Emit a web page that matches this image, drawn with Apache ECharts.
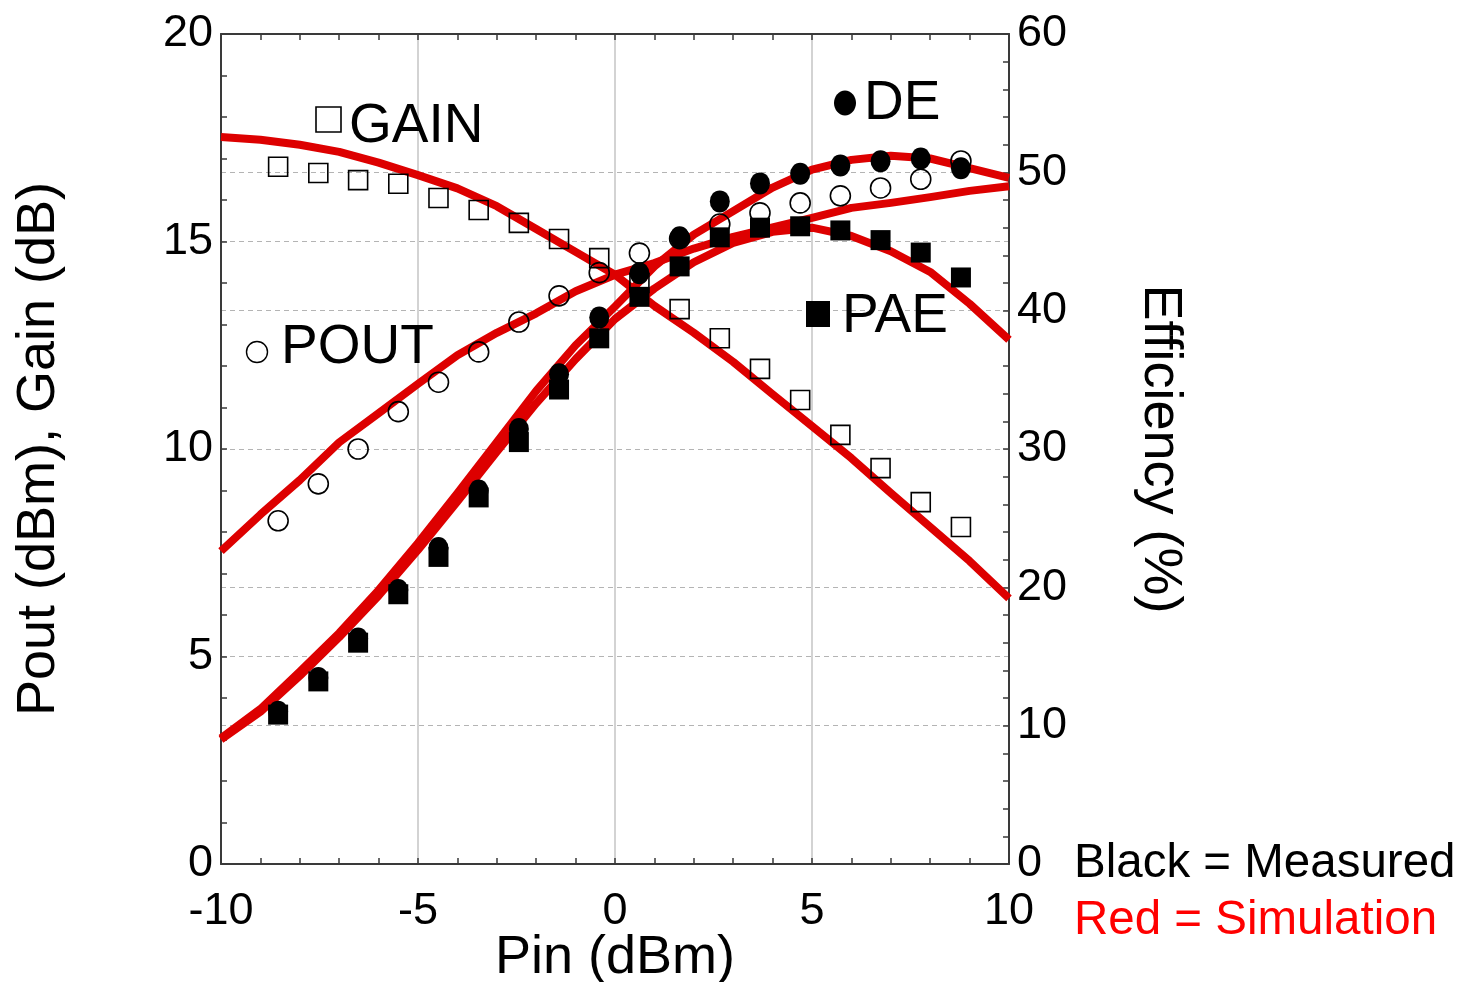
<!DOCTYPE html>
<html>
<head>
<meta charset="utf-8">
<title>Pout, Gain and Efficiency vs Pin</title>
<script src="https://cdn.jsdelivr.net/npm/echarts@6/dist/echarts.min.js"></script>
<style>
  html, body { margin: 0; padding: 0; background: #fff; }
  #chart { width: 1462px; height: 982px; }
</style>
</head>
<body>
<div id="chart"></div>
<script>
// Measured input power sweep (dBm)
const pinMeas = [-8.55, -7.53, -6.52, -5.5, -4.48, -3.46, -2.44, -1.42, -0.4, 0.62, 1.64, 2.66, 3.68, 4.7, 5.72, 6.74, 7.76, 8.78];
// Measured gain (dB) and output power (dBm)
const gainMeas = [16.8, 16.65, 16.48, 16.39, 16.05, 15.76, 15.45, 15.06, 14.6, 14.0, 13.37, 12.67, 11.93, 11.18, 10.34, 9.54, 8.72, 8.12];
const poutMeas = [8.27, 9.16, 10.0, 10.9, 11.61, 12.34, 13.06, 13.69, 14.25, 14.72, 15.07, 15.42, 15.69, 15.93, 16.1, 16.29, 16.5, 16.94];
// Measured drain efficiency and power-added efficiency (%)
const deMeas = [11.0, 13.45, 16.3, 19.8, 22.85, 27.0, 31.45, 35.4, 39.5, 42.7, 45.3, 47.9, 49.2, 49.9, 50.5, 50.8, 51.0, 50.3];
const paeMeas = [10.8, 13.2, 16.0, 19.5, 22.2, 26.5, 30.5, 34.3, 38.0, 41.0, 43.2, 45.3, 46.0, 46.1, 45.8, 45.1, 44.2, 42.4];

// Simulated sweep (dBm)
const pinSim = [-10, -9, -8, -7, -6, -5, -4, -3, -2, -1, 0, 1, 2, 3, 4, 5, 6, 7, 8, 9, 10];
const gainSim = [17.52, 17.45, 17.33, 17.16, 16.9, 16.6, 16.28, 15.85, 15.3, 14.75, 14.2, 13.45, 12.8, 12.1, 11.32, 10.55, 9.78, 8.94, 8.12, 7.3, 6.4];
const poutSim = [7.54, 8.42, 9.25, 10.16, 10.86, 11.57, 12.26, 12.8, 13.27, 13.8, 14.2, 14.48, 14.83, 15.11, 15.34, 15.57, 15.81, 15.93, 16.07, 16.22, 16.33];
const deSim = [9.1, 11.2, 13.9, 16.7, 19.8, 23.2, 26.8, 30.5, 34.2, 37.5, 40.3, 43.2, 45.5, 47.2, 48.9, 50.2, 50.9, 51.2, 51.0, 50.3, 49.6];
const paeSim = [9.0, 11.0, 13.6, 16.4, 19.4, 22.7, 26.2, 29.8, 33.3, 36.5, 39.4, 41.6, 43.5, 44.9, 45.7, 46.0, 45.4, 44.3, 42.8, 40.5, 37.9];

// Axis ranges
const xRange = [-10, 10];
const leftRange = [0, 20];
const rightRange = [0, 60];

const FONT = '"Liberation Sans", Arial, Helvetica, sans-serif';
const SIM_RED = '#dd0000';
const AXIS_DARK = '#3a3a3a';

const zip = (xs, ys) => xs.map((x, i) => [x, ys[i]]);

function simLine(name, ys, yAxisIndex) {
  return {
    name, type: 'line', xAxisIndex: 0, yAxisIndex,
    data: zip(pinSim, ys),
    showSymbol: false, symbol: 'none', smooth: false,
    lineStyle: { color: SIM_RED, width: 8, cap: 'butt', join: 'round', opacity: 1 },
    z: 2, silent: true, animation: false
  };
}

function marks(name, ys, yAxisIndex, symbol, size, filled, z) {
  return {
    name, type: 'scatter', xAxisIndex: 0, yAxisIndex,
    data: zip(pinMeas, ys),
    symbol, symbolSize: size,
    itemStyle: filled
      ? { color: '#000', borderWidth: 0, opacity: 1 }
      : { color: 'rgba(255,255,255,0)', borderColor: '#000', borderWidth: 1.6, opacity: 1 },
    z, silent: true, animation: false
  };
}

const chart = echarts.init(document.getElementById('chart'), null, { renderer: 'canvas' });

const tickLabel = { color: '#000', fontSize: 45, fontFamily: FONT };

// text helper for the in-plot keys and the colour key
function label(x, y, text, size, fill) {
  return {
    type: 'text', x, y, z: 10, silent: true,
    style: { text, font: size + 'px ' + FONT, fill, align: 'left', verticalAlign: 'middle' }
  };
}

chart.setOption({
  backgroundColor: '#fff',
  animation: false,
  grid: { left: 221, right: 453, top: 34, bottom: 118, containLabel: false, outerBoundsMode: 'none' },
  xAxis: [
    {
      type: 'value', position: 'bottom',
      min: xRange[0], max: xRange[1], interval: 5,
      name: 'Pin (dBm)', nameLocation: 'middle', nameGap: 67, nameMoveOverlap: false,
      nameTextStyle: { color: '#000', fontSize: 54, fontFamily: FONT },
      axisLine: { show: true, onZero: false, lineStyle: { color: AXIS_DARK, width: 2 } },
      axisTick: { show: true, inside: true, length: 6, lineStyle: { color: AXIS_DARK, width: 1.5 } },
      minorTick: { show: true, splitNumber: 5, length: 6, lineStyle: { color: AXIS_DARK, width: 1.5 } },
      axisLabel: Object.assign({ margin: 25 }, tickLabel),
      splitLine: { show: true, lineStyle: { color: '#c4c4c4', width: 1.5, type: 'solid' } }
    },
    {
      type: 'value', position: 'top',
      min: xRange[0], max: xRange[1], interval: 5,
      axisLine: { show: true, onZero: false, lineStyle: { color: AXIS_DARK, width: 2 } },
      axisTick: { show: true, inside: true, length: 6, lineStyle: { color: AXIS_DARK, width: 1.5 } },
      minorTick: { show: true, splitNumber: 5, length: 6, lineStyle: { color: AXIS_DARK, width: 1.5 } },
      axisLabel: { show: false },
      splitLine: { show: false }
    }
  ],
  yAxis: [
    {
      type: 'value', position: 'left',
      min: leftRange[0], max: leftRange[1], interval: 5,
      name: 'Pout (dBm), Gain (dB)', nameLocation: 'middle', nameGap: 155, nameRotate: 90, nameMoveOverlap: false,
      nameTextStyle: { color: '#000', fontSize: 54, fontFamily: FONT },
      axisLine: { show: true, onZero: false, lineStyle: { color: AXIS_DARK, width: 2 } },
      axisTick: { show: true, inside: true, length: 6, lineStyle: { color: AXIS_DARK, width: 1.5 } },
      minorTick: { show: true, splitNumber: 5, length: 6, lineStyle: { color: AXIS_DARK, width: 1.5 } },
      axisLabel: Object.assign({ margin: 8 }, tickLabel),
      splitLine: { show: true, lineStyle: { color: '#b4b4b4', width: 1.2, type: [5, 4] } }
    },
    {
      type: 'value', position: 'right',
      min: rightRange[0], max: rightRange[1], interval: 10,
      name: 'Efficiency (%)', nameLocation: 'middle', nameGap: 124, nameRotate: -90, nameMoveOverlap: false,
      nameTextStyle: { color: '#000', fontSize: 54, fontFamily: FONT },
      axisLine: { show: true, onZero: false, lineStyle: { color: AXIS_DARK, width: 2 } },
      axisTick: { show: true, inside: true, length: 6, lineStyle: { color: AXIS_DARK, width: 1.5 } },
      minorTick: { show: true, splitNumber: 5, length: 6, lineStyle: { color: AXIS_DARK, width: 1.5 } },
      axisLabel: Object.assign({ margin: 8 }, tickLabel),
      splitLine: { show: true, lineStyle: { color: '#b4b4b4', width: 1.2, type: [5, 4] } }
    }
  ],
  series: [
    simLine('Gain (sim)', gainSim, 0),
    simLine('Pout (sim)', poutSim, 0),
    simLine('DE (sim)', deSim, 1),
    simLine('PAE (sim)', paeSim, 1),
    marks('GAIN', gainMeas, 0, 'rect', 19, false, 3),
    marks('POUT', poutMeas, 0, 'circle', 20, false, 3),
    marks('DE', deMeas, 1, 'circle', [20, 22], true, 4),
    marks('PAE', paeMeas, 1, 'rect', 20, true, 5)
  ],
  graphic: [
    // series keys
    { type: 'rect', shape: { x: 316, y: 107, width: 25, height: 25 }, style: { fill: 'none', stroke: '#000', lineWidth: 1.6 }, z: 10, silent: true },
    label(349, 127, 'GAIN', 55, '#000'),
    { type: 'ellipse', shape: { cx: 845, cy: 103, rx: 11, ry: 12.5 }, style: { fill: '#000' }, z: 10, silent: true },
    label(864, 104, 'DE', 55, '#000'),
    { type: 'circle', shape: { cx: 257, cy: 352, r: 10.5 }, style: { fill: 'none', stroke: '#000', lineWidth: 1.4 }, z: 10, silent: true },
    label(281, 348, 'POUT', 55, '#000'),
    { type: 'rect', shape: { x: 806, y: 301, width: 24, height: 26 }, style: { fill: '#000' }, z: 10, silent: true },
    label(842, 317, 'PAE', 55, '#000'),
    // colour key
    label(1074, 864, 'Black = Measured', 47.5, '#000'),
    label(1074, 921, 'Red = Simulation', 47.5, '#ff0000')
  ]
});
</script>
</body>
</html>
